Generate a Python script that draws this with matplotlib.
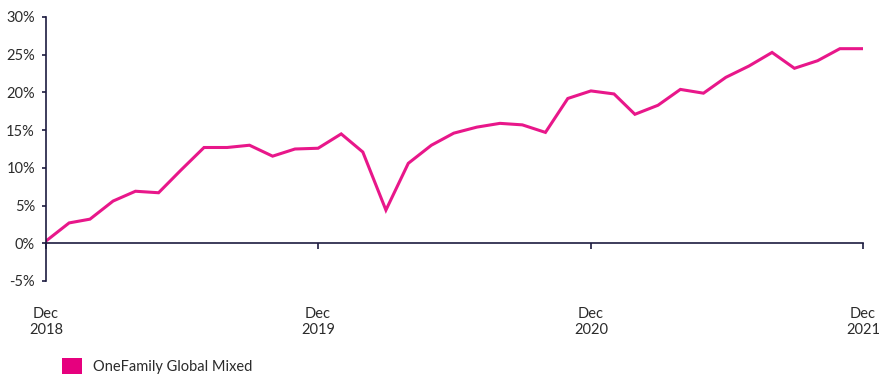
import numpy as np
import pandas as pd
import matplotlib
matplotlib.use('Agg')
import matplotlib.pyplot as plt
from matplotlib.patches import Patch
from matplotlib.ticker import FuncFormatter

# Cumulative performance, month-end values (%)
months = pd.date_range('2018-12-31', '2021-12-31', freq='ME')
growth = [0.3, 2.7, 3.2, 5.6, 6.9, 6.7, 9.7, 12.7, 12.7, 13.0, 11.55, 12.5,
          12.6, 14.5, 12.1, 4.4, 10.6, 13.0, 14.6, 15.4, 15.9, 15.7, 14.7, 19.2,
          20.2, 19.8, 17.1, 18.3, 20.4, 19.9, 22.0, 23.5, 25.3, 23.2, 24.2, 25.8,
          25.8]
series_name = 'OneFamily Global Mixed'
tick_dates = pd.to_datetime(['2018-12-31', '2019-12-31', '2020-12-31', '2021-12-31'])
tick_labels = ['Dec\n2018', 'Dec\n2019', 'Dec\n2020', 'Dec\n2021']

line_colour = '#E8178A'
axis_colour = '#1C1B3F'
text_colour = '#2B2B2B'

plt.rcParams['font.family'] = ['Lato', 'DejaVu Sans']
plt.rcParams['font.size'] = 10.5

fig = plt.figure(figsize=(8.92, 3.76), dpi=100)
ax = fig.add_axes([46 / 892, 1 - 281 / 376, (863 - 46) / 892, (281 - 17) / 376])

ax.plot(months, growth, color=line_colour, linewidth=2.2, solid_joinstyle='miter')

ax.set_xlim(months[0], months[-1])
ax.set_ylim(-5, 30)
ax.set_yticks(np.arange(-5, 31, 5))
ax.yaxis.set_major_formatter(FuncFormatter(lambda v, _: f'{v:.0f}%'))

ax.set_xticks(tick_dates)
ax.set_xticklabels(tick_labels, linespacing=1.7)

for side in ['top', 'right']:
    ax.spines[side].set_visible(False)
ax.spines['bottom'].set_position(('data', 0))
for side in ['left', 'bottom']:
    ax.spines[side].set_color(axis_colour)
    ax.spines[side].set_linewidth(1.2)

ax.tick_params(axis='y', length=3, width=1.2, color=axis_colour, labelcolor=text_colour, pad=5)
ax.tick_params(axis='x', length=4, width=1.2, color=axis_colour, labelcolor=text_colour, pad=42)

fig.legend(handles=[Patch(facecolor='#E6007E', edgecolor='none', label=series_name)],
           loc='center left', bbox_to_anchor=(49 / 892, 1 - 366 / 376), frameon=False,
           handlelength=1.35, handleheight=1.35, handletextpad=0.8, labelcolor=text_colour)

fig.savefig('out.png', dpi=100, facecolor='white')
